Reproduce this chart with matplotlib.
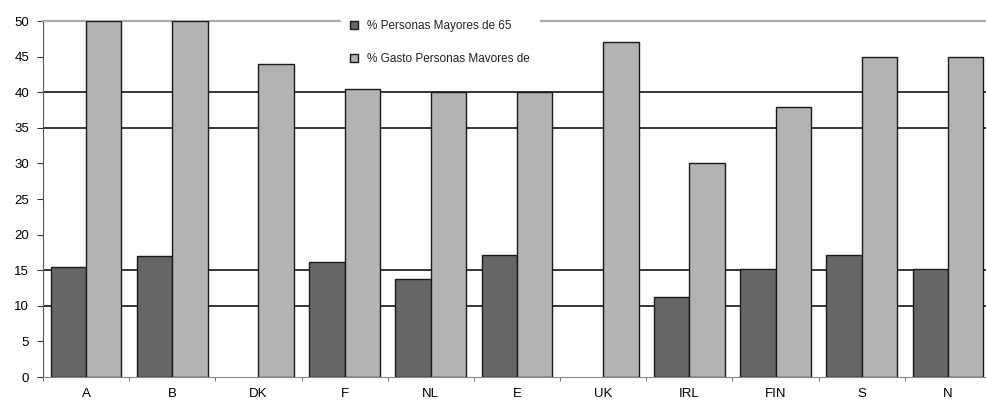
import matplotlib.pyplot as plt
import numpy as np

# datos por pais
paises = ["A", "B", "DK", "F", "NL", "E", "UK", "IRL", "FIN", "S", "N"]
mayores_65 = [15.5, 17.0, np.nan, 16.2, 13.7, 17.1, np.nan, 11.2, 15.1, 17.2, 15.1]
gasto_mayores = [50, 50, 44, 40.4, 40, 40, 47, 30, 37.9, 45, 45]
lineas_guia = [10, 15, 35, 40]

plt.rcParams['font.family'] = ['Liberation Sans', 'DejaVu Sans']

fig = plt.figure(figsize=(9.87, 4.01), dpi=100)
ax = fig.add_axes([43 / 987, 24 / 401, 948 / 987, 356 / 401])

x = np.arange(len(paises))
ancho = 0.41
ax.bar(x - ancho / 2, mayores_65, ancho, color="#666666", edgecolor="#1a1a1a",
       linewidth=1, label="% Personas Mayores de 65", zorder=3)
ax.bar(x + ancho / 2, gasto_mayores, ancho, color="#b3b3b3", edgecolor="#1a1a1a",
       linewidth=1, label="% Gasto Personas Mavores de", zorder=3)

for y in lineas_guia:
    ax.axhline(y, color="black", linewidth=1.1, zorder=1)

ax.set_xlim(-0.5, len(paises) - 0.5)
ax.set_ylim(0, 50)
ax.set_yticks(range(0, 51, 5))
ax.set_xticks(x)
ax.set_xticklabels(paises)
ax.set_xticks(np.arange(-0.5, len(paises), 1), minor=True)
ax.tick_params(axis="x", which="major", length=0, pad=8, labelsize=9.5)
ax.tick_params(axis="x", which="minor", length=3, color="#555555")
ax.tick_params(axis="y", length=4, color="#333333", labelsize=9.5, pad=6)

ax.spines["top"].set_color("#aaaaaa")
ax.spines["top"].set_linewidth(1.6)
ax.spines["right"].set_visible(False)
ax.spines["left"].set_color("#555555")
ax.spines["bottom"].set_color("#888888")

leg = ax.legend(loc="upper left", bbox_to_anchor=(341 / 987, 1 - 11 / 401),
                bbox_transform=fig.transFigure, frameon=True, fancybox=False,
                facecolor="white", edgecolor="white", framealpha=1,
                fontsize=8.5, handlelength=0.7, handleheight=0.7,
                labelspacing=1.8, handletextpad=0.75, borderpad=0.75,
                borderaxespad=0)
leg.set_zorder(5)
for t in leg.get_texts():
    t.set_color("#222222")

fig.savefig("out.png", dpi=100)
